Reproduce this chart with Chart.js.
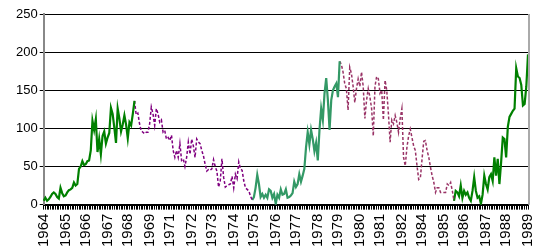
<!DOCTYPE html>
<html>
<head>
<meta charset="utf-8">
<script src="https://cdn.jsdelivr.net/npm/chart.js@4"></script>
<style>
  html, body { margin: 0; padding: 0; background: #fff; overflow: hidden; }
  #wrap { width: 550px; height: 251px; position: relative; }
</style>
</head>
<body>
<div id="wrap"><canvas id="chart"></canvas></div>
<script>
// tick labels on the x axis (1970 and 1983 are not shown in the original)
const yearTicks = ['1964','1965','1966','1967','1968','1969','1971','1972','1973','1974','1975','1976',
  '1977','1978','1979','1980','1981','1982','1984','1985','1986','1987','1988','1989'];

// monthly values, each series picks up where the previous one ends
const green1 = [5,9,5,7,10,14,16,14,10,8,
  22,15,11,12,16,19,20,22,29,25,
  27,47,50,57,52,53,57,58,71,110,
  98,112,69,86,66,90,96,80,88,94,
  127,119,101,81,126,113,96,105,117,105,
  87,108,104,119,136];
const purple1 = [136,118,120,106,97,95,93,95,95,106,
  128,119,104,126,119,108,111,95,97,86,
  88,84,91,71,62,71,62,80,58,60,
  50,62,82,66,86,77,62,86,82,80,
  71,64,53,44,46,45,47,59,50,44,
  23,31,60,36,23,25,26,27,37,22,
  40,34,56,47,45,31,22,20,18,11,
  6];
const teal = [6,10,22,39,27,10,14,9,13,9,
  20,18,9,14,1,13,9,20,13,14,
  20,9,10,12,15,30,23,27,40,30,
  38,47,75,95,79,98,86,70,81,58,
  98,126,111,146,166,137,98,137,150,155,
  159,141,188];
const maroon = [188,184,174,159,152,124,180,172,155,134,
  152,165,155,174,155,113,137,152,141,126,
  90,155,168,165,146,150,111,163,150,119,
  82,111,106,117,108,95,113,126,62,51,
  75,90,99,88,77,71,51,33,35,60,
  83,84,71,62,49,38,29,16,22,22,
  16,16,16,16,27,25,29,18,5];
const green2 = [5,18,16,11,25,9,18,13,16,9,
  5,18,36,18,9,11,1,13,38,27,
  20,36,40,31,62,38,60,27,55,88,
  86,62,102,115,119,123,126,179,168,166,
  157,130,132,155,197];

const seriesList = [green1, purple1, teal, maroon, green2];
const starts = [];
let pos = 0;
seriesList.forEach(s => { starts.push(pos); pos += s.length - 1; });
const total = pos + 1;

function pad(values, start) {
  const out = new Array(total).fill(null);
  values.forEach((v, i) => { out[start + i] = v; });
  return out;
}

const labels = [];
for (let i = 0; i < total; i++) labels.push(i);
const tickAt = {};
yearTicks.forEach((y, k) => { tickAt[Math.round(k * (total - 1) / (yearTicks.length - 1))] = y; });

function line(values, start, color, dashed) {
  return {
    data: pad(values, start),
    borderColor: color,
    borderWidth: dashed ? 1.5 : 2.2,
    borderDash: dashed ? [3, 2] : [],
    pointRadius: 0,
    tension: 0,
    spanGaps: false
  };
}

const rightEdge = {
  id: 'rightEdge',
  afterDraw(chart) {
    const a = chart.chartArea, c = chart.ctx;
    c.save();
    c.strokeStyle = '#aaa';
    c.lineWidth = 2;
    c.beginPath();
    c.moveTo(a.right + 1, a.top);
    c.lineTo(a.right + 1, a.bottom);
    c.stroke();
    c.restore();
  }
};

new Chart(document.getElementById('chart'), {
  type: 'line',
  data: {
    labels: labels,
    datasets: [
      line(green1, starts[0], '#008000', false),
      line(purple1, starts[1], '#800080', true),
      line(teal, starts[2], '#339966', false),
      line(maroon, starts[3], '#993366', true),
      line(green2, starts[4], '#008000', false)
    ]
  },
  options: {
    responsive: true,
    maintainAspectRatio: false,
    animation: false,
    devicePixelRatio: 1,
    layout: { padding: { left: 14, right: 4, top: 14, bottom: 0 } },
    plugins: { legend: { display: false }, tooltip: { enabled: false } },
    scales: {
      x: {
        type: 'category',
        offset: false,
        grid: { drawOnChartArea: false, tickLength: 5, color: '#000' },
        border: { color: '#000', width: 2 },
        ticks: {
          autoSkip: false,
          minRotation: 90,
          maxRotation: 90,
          padding: 4,
          color: '#000',
          font: { family: 'Liberation Sans, Arial', size: 15 },
          callback: (v, i) => tickAt[i] !== undefined ? tickAt[i] : ''
        }
      },
      y: {
        min: 0,
        max: 250,
        grid: { color: '#000', lineWidth: 1, tickLength: 4 },
        border: { color: '#888', width: 2 },
        ticks: {
          stepSize: 50,
          padding: 2,
          color: '#000',
          font: { family: 'Liberation Sans, Arial', size: 13 }
        }
      }
    }
  },
  plugins: [rightEdge]
});
</script>
</body>
</html>
